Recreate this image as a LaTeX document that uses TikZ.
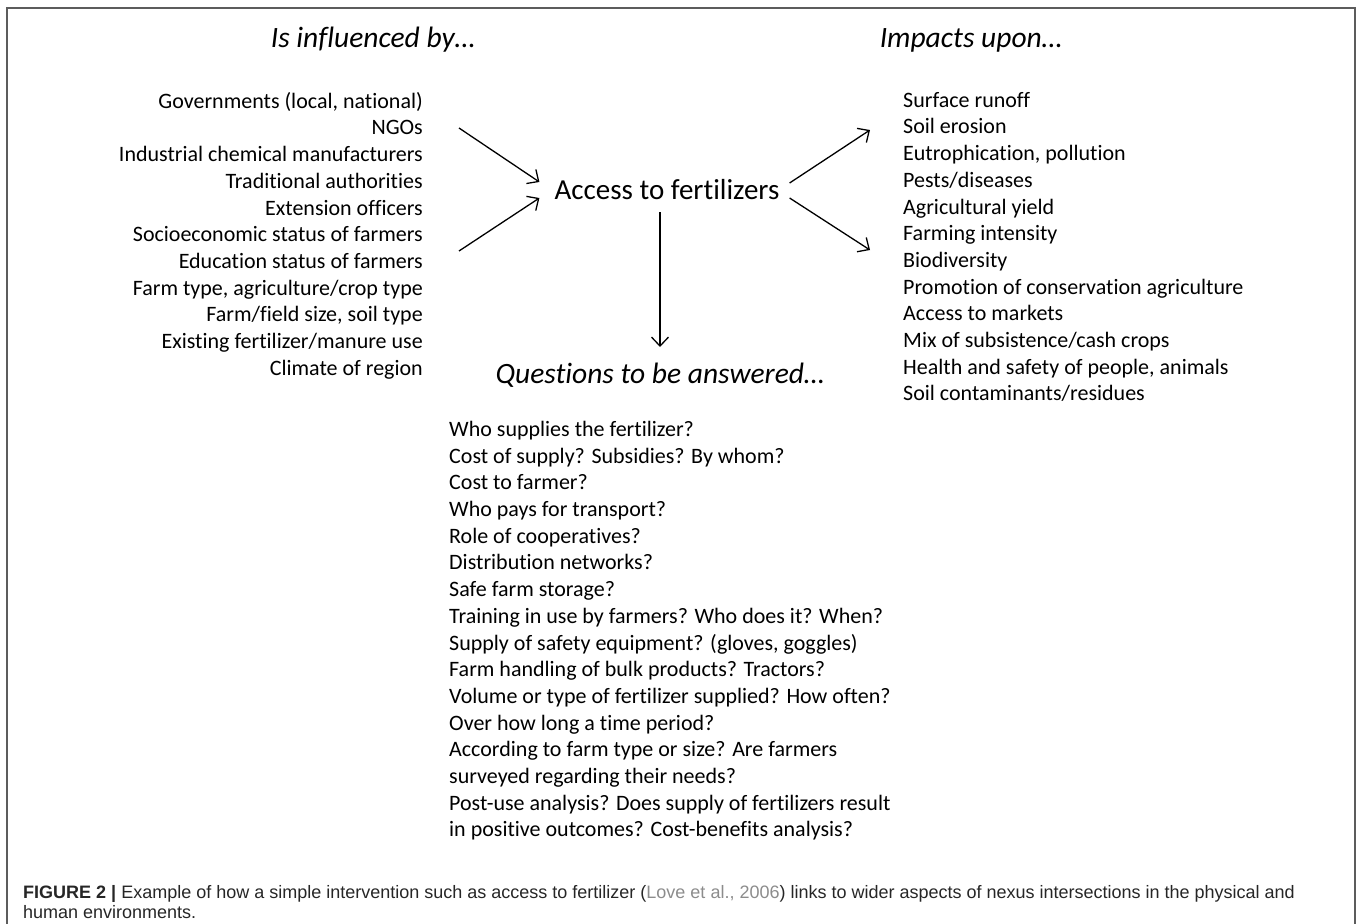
\documentclass[tikz,border=0pt]{standalone}
\usepackage{fontspec}
\setmainfont{Carlito}[Ligatures=NoCommon]
\newfontfamily\capfont{Liberation Sans}
\usetikzlibrary{arrows.meta}
\definecolor{framegray}{HTML}{5C5C5C}
\definecolor{capgray}{HTML}{262626}
\definecolor{citegray}{HTML}{8C8C8C}
\begin{document}
\begin{tikzpicture}[x=1pt, y=-1pt, >={Straight Barb[length=9pt, width=17pt, line width=1.3pt]},
  listtext/.style={inner sep=0pt, font=\fontsize{22}{26.7}\selectfont},
  heading/.style={inner sep=0pt, font=\fontsize{29.5}{34}\selectfont\itshape}]
  \useasboundingbox (0,0) rectangle (1358,924);

  % Frame
  \draw[framegray, line width=1.6pt] (7,924) -- (7,8) -- (1355,8) -- (1355,924);

  % Headings
  \node[heading] (influenced) at (373,40) {Is influenced by…};
  \node[heading] (impacts) at (971,40) {Impacts upon…};
  \node[heading] (questions) at (660,375) {Questions to be answered…};

  % Centre
  \node[inner sep=0pt, font=\fontsize{29}{34}\selectfont] (access) at (667,190) {Access to fertilizers};

  % Left list (right aligned)
  \node[listtext, anchor=north east, align=right] (influences) at (423,92) {%
    Governments (local, national)\\
    NGOs\\
    Industrial chemical manufacturers\\
    Traditional authorities\\
    Extension officers\\
    Socioeconomic status of farmers\\
    Education status of farmers\\
    Farm type, agriculture/crop type\\
    Farm/field size, soil type\\
    Existing fertilizer/manure use\\
    Climate of region};

  % Right list
  \node[listtext, anchor=north west, align=left] (impactlist) at (903,92) {%
    Surface runoff\\
    Soil erosion\\
    Eutrophication, pollution\\
    Pests/diseases\\
    Agricultural yield\\
    Farming intensity\\
    Biodiversity\\
    Promotion of conservation agriculture\\
    Access to markets\\
    Mix of subsistence/cash crops\\
    Health and safety of people, animals\\
    Soil contaminants/residues};

  % Questions list
  \node[listtext, anchor=north west, align=left] (questionlist) at (449,421) {%
    Who supplies the fertilizer?\\
    Cost of supply? Subsidies? By whom?\\
    Cost to farmer?\\
    Who pays for transport?\\
    Role of cooperatives?\\
    Distribution networks?\\
    Safe farm storage?\\
    Training in use by farmers? Who does it? When?\\
    Supply of safety equipment? (gloves, goggles)\\
    Farm handling of bulk products? Tractors?\\
    Volume or type of fertilizer supplied? How often?\\
    Over how long a time period?\\
    According to farm type or size? Are farmers\\
    surveyed regarding their needs?\\
    Post-use analysis? Does supply of fertilizers result\\
    in positive outcomes? Cost-benefits analysis?};

  % Arrow ends
  \coordinate (inTop) at (459,128);
  \coordinate (inBot) at (459,251);
  \coordinate (outTop) at (870,130);
  \coordinate (outBot) at (870,250);
  \coordinate (downEnd) at (660,347);

  % Arrows
  \draw[->, line width=1.3pt] (inTop) -- ([xshift=-15pt, yshift=8pt]access.west);
  \draw[->, line width=1.3pt] (inBot) -- ([xshift=-15pt, yshift=-8pt]access.west);
  \draw[->, line width=1.3pt] ([xshift=10pt, yshift=7pt]access.east) -- (outTop);
  \draw[->, line width=1.3pt] ([xshift=10pt, yshift=-8pt]access.east) -- (outBot);
  \draw[->, line width=1.3pt] ([xshift=-7pt, yshift=-12pt]access.south) -- (downEnd);

  % Caption
  \node[inner sep=0pt, anchor=north west, align=left, text=capgray,
    font=\capfont\fontsize{18}{20.5}\selectfont] (caption) at (23,885) {%
    \textbf{FIGURE 2 |} Example of how a simple intervention such as access to fertilizer (\textcolor{citegray}{Love et al., 2006}) links to wider aspects of nexus intersections in the physical and\\
    human environments.};
\end{tikzpicture}
\end{document}
